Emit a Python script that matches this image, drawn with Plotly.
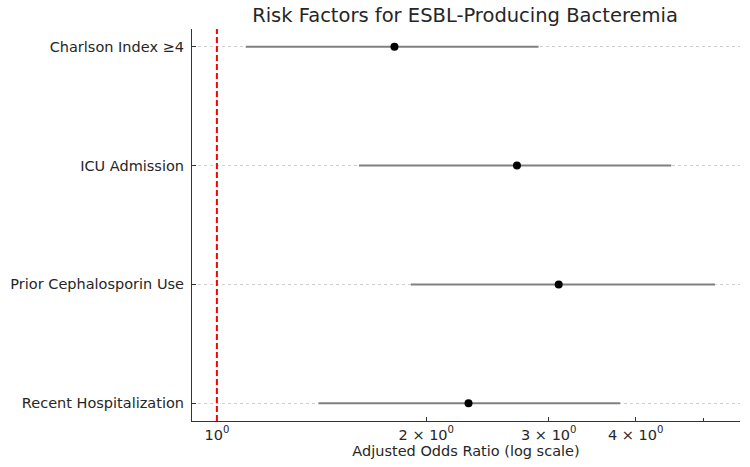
import plotly.graph_objects as go

factors = ["Recent Hospitalization", "Prior Cephalosporin Use", "ICU Admission", "Charlson Index ≥4"]
odds_ratio = [2.3, 3.1, 2.7, 1.8]
ci_low = [1.4, 1.9, 1.6, 1.1]
ci_high = [3.8, 5.2, 4.5, 2.9]

tick_vals = [1, 2, 3, 4]
tick_text = ["10<sup>0</sup>", "2 × 10<sup>0</sup>", "3 × 10<sup>0</sup>", "4 × 10<sup>0</sup>"]
minor_tick_vals = [5]

font_family = "DejaVu Sans"
ypos = list(range(len(factors)))

fig = go.Figure()
fig.add_trace(go.Scatter(
    x=odds_ratio, y=ypos, mode="markers",
    marker=dict(color="black", size=8),
    error_x=dict(type="data", symmetric=False,
                 array=[h - o for h, o in zip(ci_high, odds_ratio)],
                 arrayminus=[o - l for o, l in zip(odds_ratio, ci_low)],
                 color="#808080", thickness=2, width=0),
    showlegend=False,
))

fig.add_shape(type="line", x0=1, x1=1, xref="x", y0=0, y1=1, yref="y domain",
              line=dict(color="red", width=2, dash="6px,3px"))

fig.update_layout(
    width=750, height=467,
    margin=dict(l=190, r=10, t=29, b=46),
    paper_bgcolor="white", plot_bgcolor="white",
    font=dict(family=font_family, size=14.5, color="#262626"),
    title=dict(text="Risk Factors for ESBL-Producing Bacteremia",
               x=(190 + 740) / 2 / 750, xanchor="center", y=1 - 15 / 467, yanchor="middle",
               font=dict(size=19.5, color="#262626")),
)
fig.update_xaxes(
    type="log", range=[-0.0358, 0.752],
    tickvals=tick_vals, ticktext=tick_text,
    ticks="inside", ticklen=4, tickcolor="#333333",
    minor=dict(tickvals=minor_tick_vals, ticks="inside", ticklen=3, tickcolor="#333333", showgrid=False),
    showline=True, linecolor="#333333", linewidth=1.2,
    showgrid=False, zeroline=False,
    title=dict(text="Adjusted Odds Ratio (log scale)", standoff=4, font=dict(size=14.5)),
)
fig.update_yaxes(
    range=[-0.15, 3.15],
    tickvals=ypos, ticktext=factors,
    ticks="inside", ticklen=4, tickcolor="#333333",
    ticklabelstandoff=4,
    showline=True, linecolor="#333333", linewidth=1.2,
    showgrid=True, gridcolor="#d0d0d0", griddash="dot", gridwidth=1,
    zeroline=False,
)

fig.write_html("out.html")
